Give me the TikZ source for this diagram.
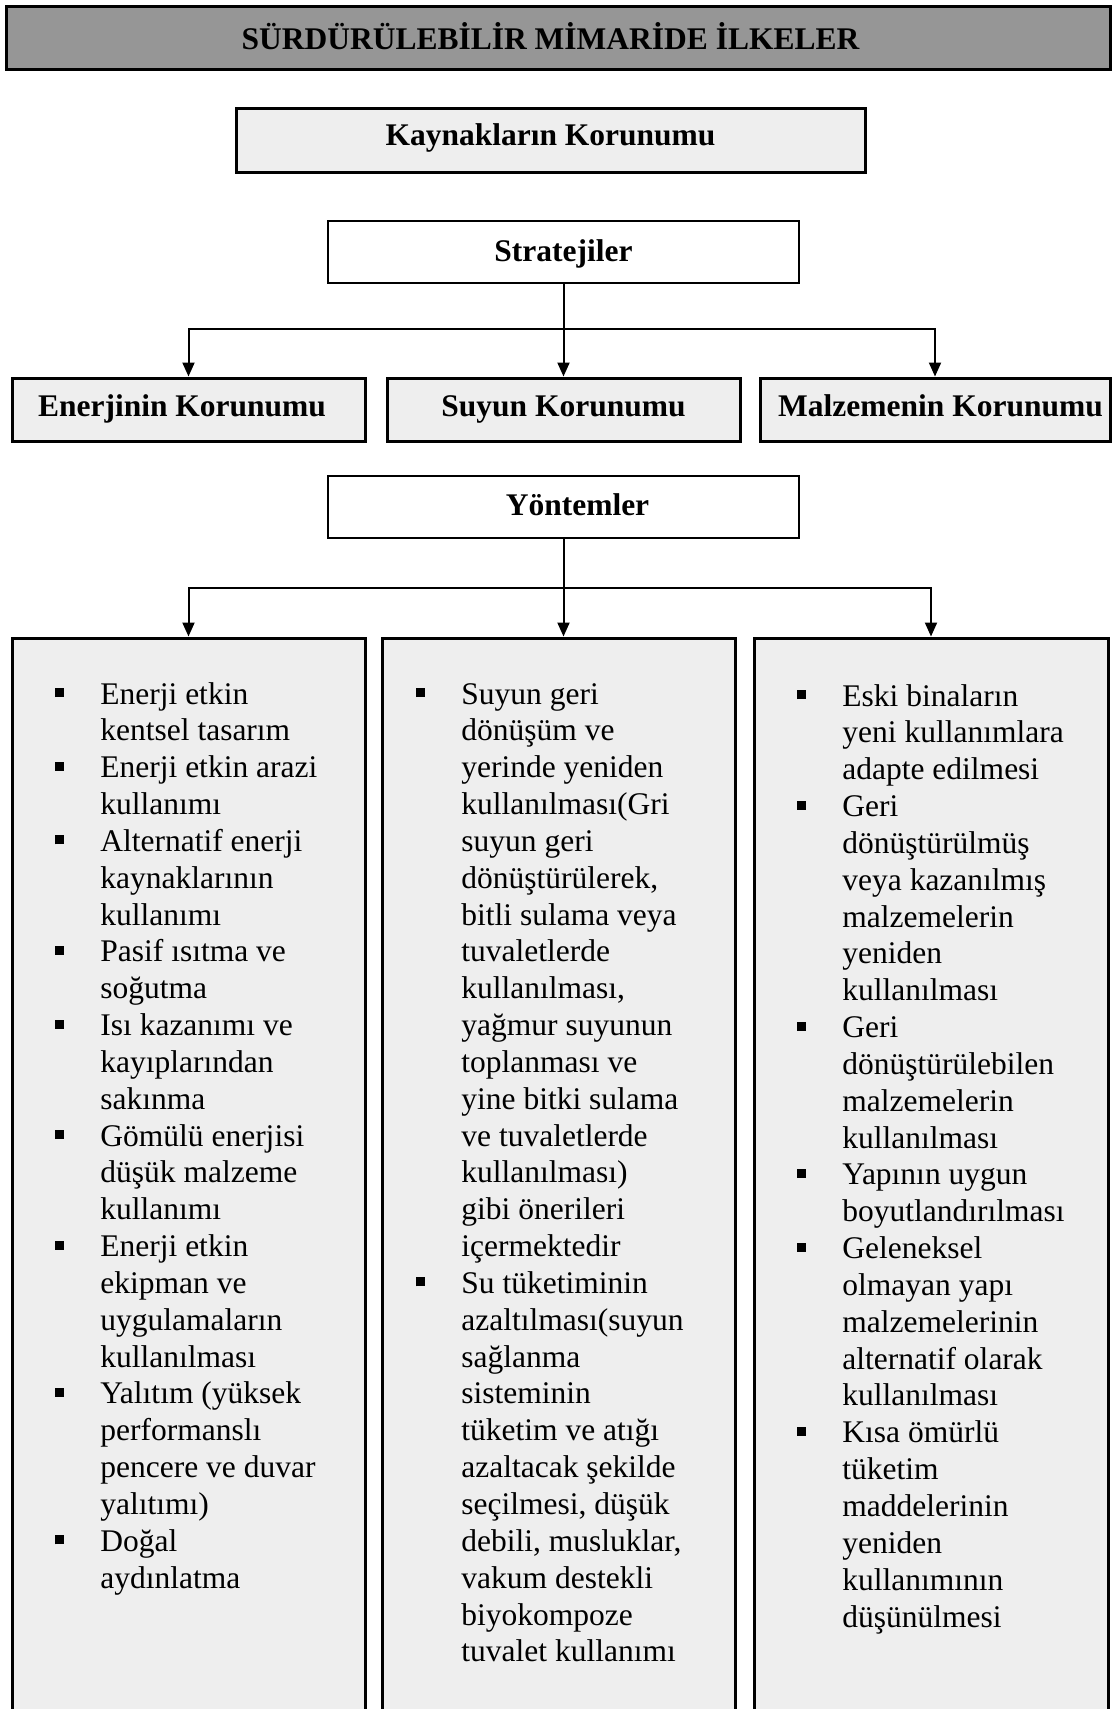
\documentclass[tikz,border=0pt]{standalone}
\usepackage{fontspec}
\setmainfont{Liberation Serif}
\usetikzlibrary{arrows.meta}
\definecolor{headgray}{RGB}{150,150,150}
\definecolor{boxgray}{RGB}{238,238,238}
% square list bullet hanging to the left of the item text
\newcommand{\bul}{\leavevmode\llap{\rule[3.5pt]{4.5pt}{4.5pt}\hspace{18pt}}}
\newcommand{\listfont}{\fontsize{15.75pt}{18.42pt}\selectfont}
\begin{document}
\begin{tikzpicture}[x=0.5pt,y=-0.5pt,
  headfont/.style={font=\fontsize{15.75pt}{18pt}\selectfont\bfseries},
  thickbox/.style={draw=black, line width=1.5pt, fill=boxgray, inner sep=0pt, headfont, text depth=0pt},
  thinbox/.style={draw=black, line width=1pt, fill=white, inner sep=0pt, headfont, text depth=0pt},
  colbox/.style={draw=black, line width=1.5pt, fill=boxgray, inner sep=0pt,
    minimum width=176.5pt, minimum height=538.5pt},
  itemlist/.style={anchor=base west, inner sep=0pt},
  arr/.style={line width=1pt, -{Triangle[width=6pt,length=7pt]}}
]
\useasboundingbox (0,0) rectangle (1112,1709);
\fill[white] (0,0) rectangle (1112,1709);

% title
\node[thickbox, fill=headgray, minimum width=552pt, minimum height=31.5pt, text height=12.2pt]
  (title) at (558,37.5) {SÜRDÜRÜLEBİLİR MİMARİDE İLKELER\hspace*{7.5pt}};

\node[thickbox, minimum width=314.5pt, minimum height=32pt, text height=5.7pt]
  (kaynak) at (550.5,140) {Kaynakların Korunumu};

% strategies
\node[thinbox, minimum width=235.5pt, minimum height=31pt, text height=9pt]
  (strat) at (563.5,252) {Stratejiler};

\node[thickbox, minimum width=176.5pt, minimum height=31.5pt, text height=6.5pt]
  (enerji) at (188.5,409.5) {Enerjinin Korunumu\hspace*{6.5pt}};
\node[thickbox, minimum width=176.5pt, minimum height=31.5pt, text height=6.5pt]
  (suyun) at (563.5,409.5) {Suyun Korunumu};
\node[thickbox, minimum width=175pt, minimum height=31.5pt, text height=6.5pt]
  (malz) at (935,409.5) {\hspace*{5.5pt}Malzemenin Korunumu};

\coordinate (j1) at (563.5,329);
\draw[arr] (strat.south) -- (suyun.north);
\draw[arr] (j1) -| (enerji.north);
\draw[arr] (j1) -| (malz.north);

% methods
\node[thinbox, minimum width=235.5pt, minimum height=31pt, text height=8.5pt]
  (yont) at (563.5,507) {\hspace*{14pt}Yöntemler};

\node[colbox] (c1) at (188.5,1176.5) {};
\node[colbox] (c2) at (558.5,1176.5) {};
\node[colbox, minimum width=177pt] (c3) at (931,1176.5) {};

\coordinate (j2) at (563.5,588);
\draw[arr] (yont.south) -- (yont.south |- c2.north);
\draw[arr] (j2) -| (c1.north);
\draw[arr] (j2) -| (c3.north);

% method lists
\node[itemlist] (l1) at (100,704) {\parbox[t]{150pt}{\listfont\raggedright
\bul Enerji etkin\\
kentsel tasarım\\
\bul Enerji etkin arazi\\
kullanımı\\
\bul Alternatif enerji\\
kaynaklarının\\
kullanımı\\
\bul Pasif ısıtma ve\\
soğutma\\
\bul Isı kazanımı ve\\
kayıplarından\\
sakınma\\
\bul Gömülü enerjisi\\
düşük malzeme\\
kullanımı\\
\bul Enerji etkin\\
ekipman ve\\
uygulamaların\\
kullanılması\\
\bul Yalıtım (yüksek\\
performanslı\\
pencere ve duvar\\
yalıtımı)\\
\bul Doğal\\
aydınlatma}};

\node[itemlist] (l2) at (461,704) {\parbox[t]{150pt}{\listfont\raggedright
\bul Suyun geri\\
dönüşüm ve\\
yerinde yeniden\\
kullanılması(Gri\\
suyun geri\\
dönüştürülerek,\\
bitli sulama veya\\
tuvaletlerde\\
kullanılması,\\
yağmur suyunun\\
toplanması ve\\
yine bitki sulama\\
ve tuvaletlerde\\
kullanılması)\\
gibi önerileri\\
içermektedir\\
\bul Su tüketiminin\\
azaltılması(suyun\\
sağlanma\\
sisteminin\\
tüketim ve atığı\\
azaltacak şekilde\\
seçilmesi, düşük\\
debili, musluklar,\\
vakum destekli\\
biyokompoze\\
tuvalet kullanımı}};

\node[itemlist] (l3) at (842,706) {\parbox[t]{150pt}{\listfont\raggedright
\bul Eski binaların\\
yeni kullanımlara\\
adapte edilmesi\\
\bul Geri\\
dönüştürülmüş\\
veya kazanılmış\\
malzemelerin\\
yeniden\\
kullanılması\\
\bul Geri\\
dönüştürülebilen\\
malzemelerin\\
kullanılması\\
\bul Yapının uygun\\
boyutlandırılması\\
\bul Geleneksel\\
olmayan yapı\\
malzemelerinin\\
alternatif olarak\\
kullanılması\\
\bul Kısa ömürlü\\
tüketim\\
maddelerinin\\
yeniden\\
kullanımının\\
düşünülmesi}};
\end{tikzpicture}
\end{document}
